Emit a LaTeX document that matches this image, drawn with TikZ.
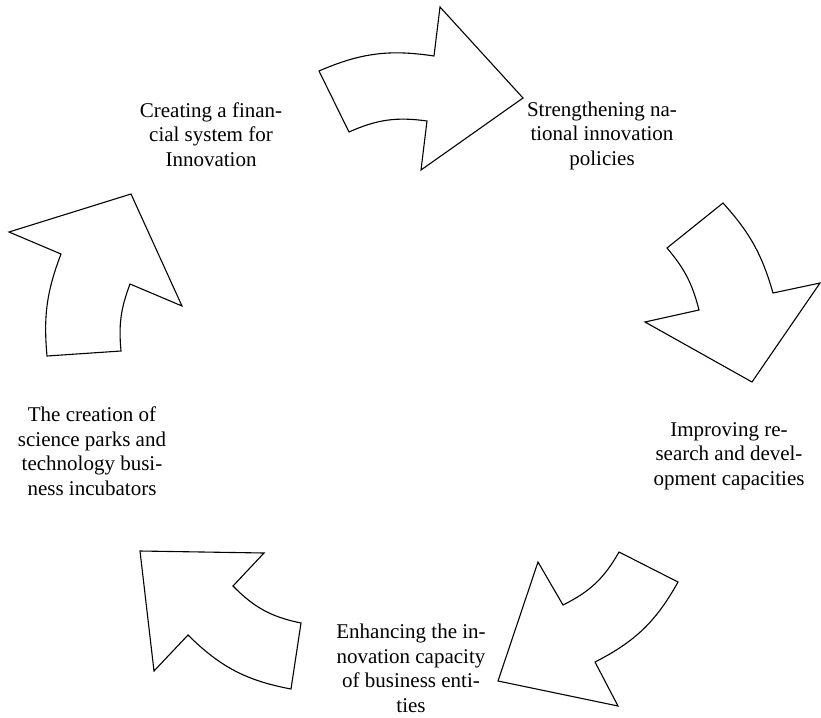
\documentclass[tikz,border=0pt]{standalone}
\usepackage{fontspec}
\setmainfont{Liberation Serif}
\begin{document}
\begin{tikzpicture}[x=1pt,y=1pt,
  arrowshape/.style={draw=black,fill=white,line width=1.1pt,line join=miter},
  lbl/.style={align=center,inner sep=0pt,anchor=base,font=\fontsize{21}{24.5}\selectfont}]
\useasboundingbox (0,0) rectangle (821,-717);
% arrow 1 (top)
\draw[arrowshape] (319,-71) to[bend left=16] (434,-56) -- (440,-7) -- (523,-98) -- (421,-170) -- (427,-121) to[bend right=16] (349,-132) -- cycle;
% arrow 2 (right)
\draw[arrowshape] (773,-293) to[bend right=13] (723,-203) -- (667,-248) to[bend left=13] (699,-310) -- (645,-322) -- (752,-382) -- (820,-283) -- cycle;
% arrow 3 (bottom right)
\draw[arrowshape] (595,-662) to[bend right=17] (678,-582) -- (619,-552) to[bend left=17] (563,-605) -- (538,-562) -- (498,-681) -- (618,-706) -- cycle;
% arrow 4 (bottom left)
\draw[arrowshape] (188,-635) to[bend right=17] (291,-689) -- (301,-623) to[bend left=17] (233,-586) -- (264,-553) -- (140,-551) -- (154,-671) -- cycle;
% arrow 5 (left)
\draw[arrowshape] (61,-254) to[bend right=13] (47,-356) -- (121,-351) to[bend left=13] (130,-284) -- (182,-306) -- (131,-194) -- (9,-232) -- cycle;
% labels (anchored at the baseline of the last line)
\node[lbl] (l1) at (211,-166) {Creating a finan-\\cial system for\\Innovation};
\node[lbl] (l2) at (602,-165) {Strengthening na-\\tional innovation\\policies};
\node[lbl] (l3) at (729,-485) {Improving re-\\search and devel-\\opment capacities};
\node[lbl] (l4) at (411,-712) {Enhancing the in-\\novation capacity\\of business enti-\\ties};
\node[lbl] (l5) at (92,-495) {The creation of\\science parks and\\technology busi-\\ness incubators};
\end{tikzpicture}
\end{document}
